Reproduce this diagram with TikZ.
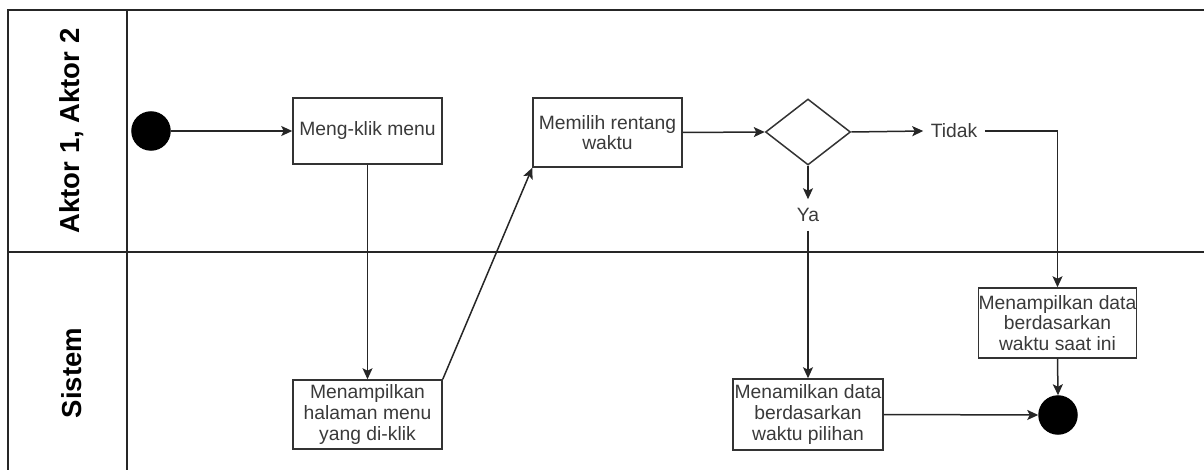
\documentclass[tikz,border=0pt]{standalone}
\usepackage{fontspec}
\setmainfont{Liberation Sans}
\usetikzlibrary{shapes.geometric,arrows.meta}
\definecolor{txt}{HTML}{3A3A3A}
\begin{document}
\begin{tikzpicture}[x=1pt,y=-1pt,
  line width=1.5pt,
  lane/.style={line width=1.5pt, draw=black!85},
  act/.style={draw=black!80, rectangle, inner sep=0pt, align=center, text=txt,
    font=\fontsize{19.3}{20.7}\selectfont},
  lbl/.style={inner sep=0pt, text=txt, font=\fontsize{19.3}{20.7}\selectfont},
  dot/.style={circle, fill=black, draw=black, inner sep=0pt, minimum size=38pt},
  title/.style={rotate=90, font=\bfseries\fontsize{27.5}{30}\selectfont, inner sep=0pt},
  flow/.style={draw=black!85, -{Stealth[length=11pt,width=10pt,inset=2.5pt]}}
]
\useasboundingbox (0,0) rectangle (1204,470);

% swimlane frame
\draw[lane] (1204,10) -- (8,10) -- (8,470);
\draw[lane] (127,10) -- (127,470);
\draw[lane] (8,252) -- (1204,252);
\node[title] (laneA) at (72,131) {Aktor 1, Aktor 2};
\node[title] (laneB) at (72,373) {Sistem};

% activities
\node[dot] (start) at (151,131) {};
\node[act, minimum width=149pt, minimum height=66pt] (klik) at (367.5,131) {Meng-klik menu};
\node[act, minimum width=149pt, minimum height=69pt] (pilih) at (607.5,132.5) {Memilih rentang\\waktu};
\node[draw=black!80, diamond, inner sep=0pt, minimum width=85pt, minimum height=66pt] (dec) at (808,132) {};
\node[lbl, minimum width=60pt] (tidak) at (954,131) {Tidak};
\node[lbl, minimum height=30pt] (ya) at (808,215) {Ya};
\node[act, minimum width=149pt, minimum height=69pt] (hal) at (367.5,414.5) {Menampilkan\\halaman menu\\yang di-klik};
\node[act, minimum width=150pt, minimum height=71pt] (plh) at (808,414.5) {Menamilkan data\\berdasarkan\\waktu pilihan};
\node[act, minimum width=149pt, minimum height=70pt] (kini) at (1057.5,323) {Menampilkan data\\berdasarkan\\waktu saat ini};
\node[dot] (end) at (1058,415) {};

% control flow
\draw[flow] (start.east) -- (klik.west);
\draw[flow] (klik.south) -- (hal.north);
\draw[flow] (hal.north east) -- (pilih.south west);
\draw[flow] (pilih.east) -- (dec.west);
\draw[flow] (dec.east) -- (tidak.west);
\draw[flow] (tidak.east) -| (kini.north);
\draw[flow] (dec.south) -- (ya.north);
\draw[flow] (ya.south) -- (plh.north);
\draw[flow] (kini.south) -- (end.north);
\draw[flow] (plh.east) -- (end.west);
\end{tikzpicture}
\end{document}
